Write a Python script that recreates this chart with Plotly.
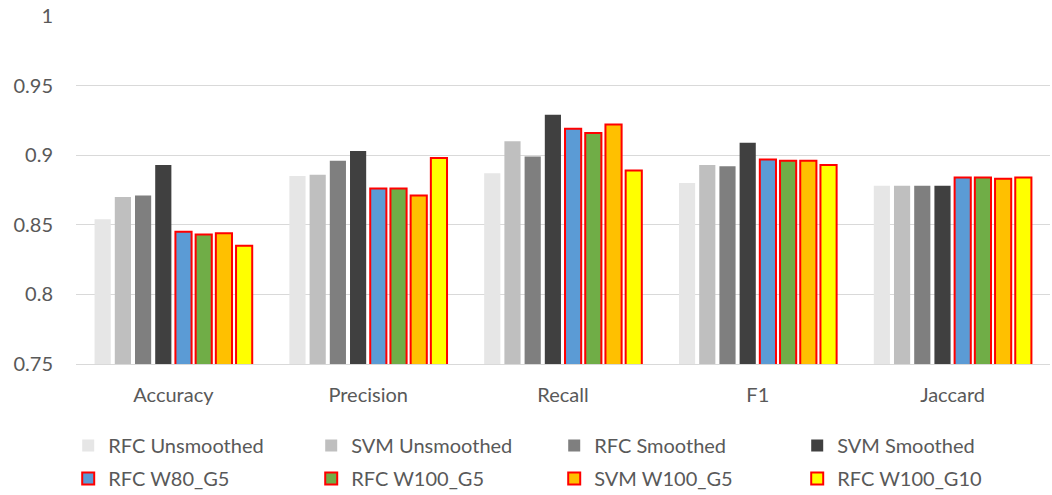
import plotly.graph_objects as go

metrics = ["Accuracy", "Precision", "Recall", "F1", "Jaccard"]

rfc_unsmoothed = [0.854, 0.885, 0.887, 0.880, 0.878]
svm_unsmoothed = [0.870, 0.886, 0.910, 0.893, 0.878]
rfc_smoothed = [0.871, 0.896, 0.899, 0.892, 0.878]
svm_smoothed = [0.893, 0.903, 0.929, 0.909, 0.878]
rfc_w80_g5 = [0.845, 0.876, 0.919, 0.897, 0.884]
rfc_w100_g5 = [0.843, 0.876, 0.916, 0.896, 0.884]
svm_w100_g5 = [0.844, 0.871, 0.922, 0.896, 0.883]
rfc_w100_g10 = [0.835, 0.898, 0.889, 0.893, 0.884]

series = [
    ("RFC Unsmoothed", rfc_unsmoothed, "#E6E6E6", None, "legend"),
    ("SVM Unsmoothed", svm_unsmoothed, "#BFBFBF", None, "legend"),
    ("RFC Smoothed", rfc_smoothed, "#7F7F7F", None, "legend"),
    ("SVM Smoothed", svm_smoothed, "#404040", None, "legend"),
    ("RFC W80_G5", rfc_w80_g5, "#5B9BD5", "#FF0000", "legend2"),
    ("RFC W100_G5", rfc_w100_g5, "#70AD47", "#FF0000", "legend2"),
    ("SVM W100_G5", svm_w100_g5, "#FFC000", "#FF0000", "legend2"),
    ("RFC W100_G10", rfc_w100_g10, "#FFFF00", "#FF0000", "legend2"),
]

fig = go.Figure()
for name, vals, fill, edge, leg in series:
    fig.add_trace(go.Bar(
        name=name,
        x=metrics,
        y=vals,
        legend=leg,
        marker=dict(
            color=fill,
            line=dict(color=edge if edge else fill, width=2 if edge else 0),
        ),
    ))

font_family = "Lato, 'Open Sans', sans-serif"
text_color = "#595959"
legend_common = dict(
    orientation="h",
    xref="paper",
    x=-0.008,
    xanchor="left",
    yanchor="middle",
    entrywidth=198,
    entrywidthmode="pixels",
    font=dict(family=font_family, size=20, color=text_color),
    bgcolor="rgba(0,0,0,0)",
    itemclick=False,
    itemdoubleclick=False,
)

fig.update_layout(
    width=1052,
    height=495,
    margin=dict(l=76, r=2, t=16, b=131, autoexpand=False),
    paper_bgcolor="white",
    plot_bgcolor="white",
    barmode="group",
    bargap=0.17,
    bargroupgap=0.2,
    font=dict(family=font_family, size=20, color=text_color),
    legend=dict(y=-0.234, **legend_common),
    legend2=dict(y=-0.329, **legend_common),
    xaxis=dict(
        showgrid=False,
        showline=True,
        linecolor="#D9D9D9",
        linewidth=1,
        ticks="",
        ticklabelstandoff=13,
        tickfont=dict(family=font_family, size=20, color=text_color),
    ),
    yaxis=dict(
        range=[0.75, 1.0],
        dtick=0.05,
        showgrid=True,
        gridcolor="#D9D9D9",
        gridwidth=1,
        zeroline=False,
        showline=False,
        ticks="",
        ticklabelstandoff=22,
        tickfont=dict(family=font_family, size=20, color=text_color),
    ),
)

fig.write_html("out.html")
